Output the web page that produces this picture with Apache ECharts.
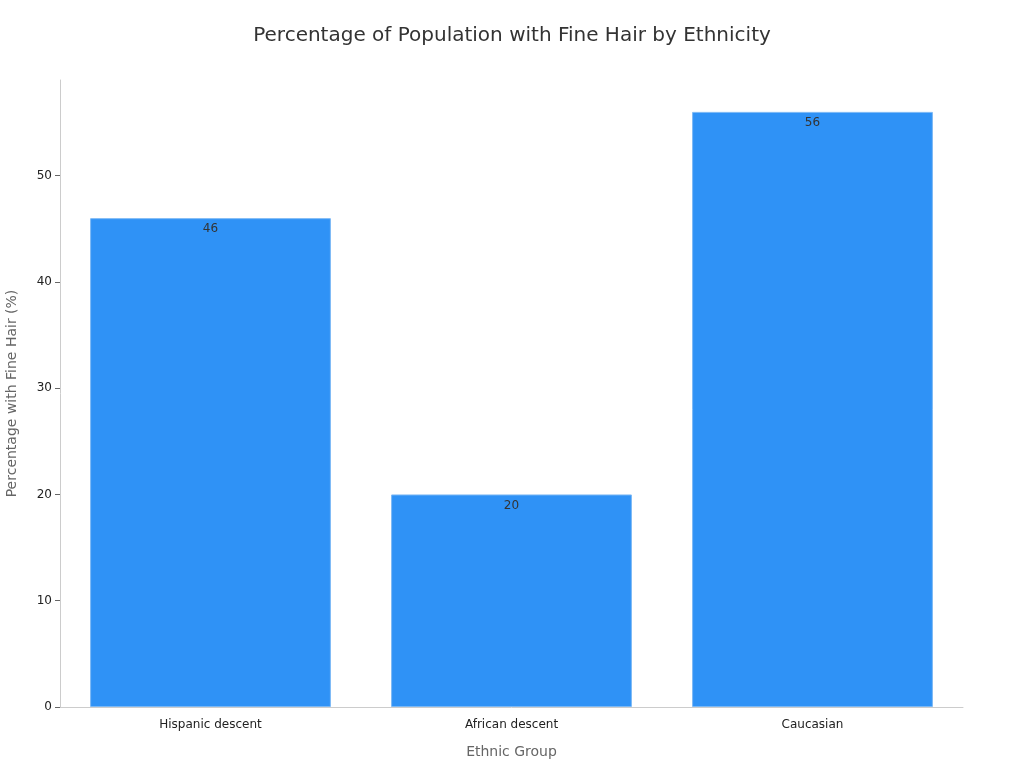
<!DOCTYPE html>
<html>
<head>
<meta charset="utf-8">
<script src="https://cdn.jsdelivr.net/npm/echarts@6/dist/echarts.min.js"></script>
<style>
	html,body{margin:0;padding:0;background:#fff;}
	#chart{width:1024px;height:768px;}
</style>
</head>
<body>
<div id="chart"></div>
<script>
// categories and values
var categories=['Hispanic descent','African descent','Caucasian'];
var values=[46,20,56];
var yTicks=[0,10,20,30,40,50];

var myChart=echarts.init(document.getElementById('chart'));
var option={
	backgroundColor:'#fff',
	textStyle:{fontFamily:'DejaVu Sans'},
	title:{
		text:'Percentage of Population with Fine Hair by Ethnicity',
		left:'center',
		top:21,
		textStyle:{fontSize:20,fontWeight:'normal',color:'#333'}
	},
	grid:{left:60,right:61,top:80,bottom:61,containLabel:false,outerBoundsMode:'none'},
	xAxis:{
		type:'category',
		data:categories,
		name:'Ethnic Group',
		nameLocation:'middle',
		nameGap:38,
		nameTextStyle:{fontSize:14,color:'#666'},
		axisLine:{lineStyle:{color:'#ccc'}},
		axisTick:{alignWithLabel:true,lineStyle:{color:'#999'}},
		axisLabel:{color:'#222',fontSize:12,margin:12}
	},
	yAxis:{
		type:'value',
		min:0,
		max:59,
		interval:10,
		name:'Percentage with Fine Hair (%)',
		nameLocation:'middle',
		nameGap:41,
		nameTextStyle:{fontSize:14,color:'#666'},
		axisLine:{show:true,lineStyle:{color:'#ccc'}},
		axisTick:{show:true,customValues:yTicks,lineStyle:{color:'#666'}},
		splitLine:{show:false},
		axisLabel:{
			color:'#222',
			fontSize:12,
			customValues:yTicks
		}
	},
	series:[{
		type:'bar',
		data:values,
		barCategoryGap:'20%',
		itemStyle:{color:'#2f92f6',borderColor:'#7bb8f5',borderWidth:1},
		label:{
			show:true,
			position:'insideTop',
			distance:5,
			color:'#333',
			fontSize:12
		}
	}]
};
myChart.setOption(option);
</script>
</body>
</html>
